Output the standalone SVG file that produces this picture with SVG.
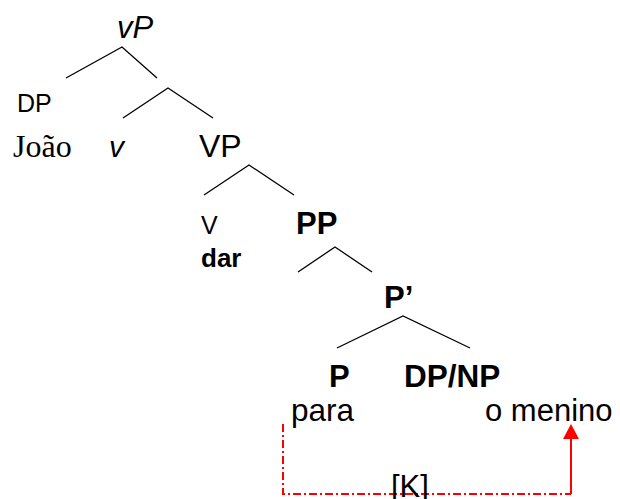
<svg xmlns="http://www.w3.org/2000/svg" width="620" height="499" viewBox="0 0 620 499">
  <style>
    .sans { font-family: "Liberation Sans", Arial, sans-serif; fill: #000; }
    .serif { font-family: "Liberation Serif", "Times New Roman", serif; fill: #000; }
    .b { font-weight: bold; }
    .i { font-style: italic; }
    .branch { stroke: #000; stroke-width: 1.3; fill: none; }
    .dashdot { stroke: #ff0000; stroke-width: 2; fill: none; stroke-dasharray: 8 3 2 3; }
    .solid { stroke: #ff0000; stroke-width: 2; fill: none; }
  </style>

  <g id="connectors">
    <path class="branch" d="M66,78 L122,47 L157,78"/>
    <path class="branch" d="M123,118 L168,88 L213,118"/>
    <path class="branch" d="M204,195 L249,165 L294,195"/>
    <path class="branch" d="M298,272 L335,247 L372,272"/>
    <path class="branch" d="M337,348 L403,316 L470,348"/>
    <path class="dashdot" d="M283,424 L283,494 L571,494"/>
    <path class="solid" d="M571,494 L571,439"/>
    <path d="M563,439 L571,424 L579,439 Z" fill="#ff0000"/>
  </g>

  <g id="node-vP"><text class="sans i" x="117" y="38" font-size="31">vP</text></g>
  <g id="node-DP"><text class="sans" x="17" y="112" font-size="25">DP</text></g>
  <g id="node-Joao"><text class="serif" x="13" y="157" font-size="32">João</text></g>
  <g id="node-v"><text class="sans i" x="109" y="157" font-size="30">v</text></g>
  <g id="node-VP"><text class="sans" x="199" y="157" font-size="32">VP</text></g>
  <g id="node-V"><text class="sans" x="201" y="234" font-size="25">V</text></g>
  <g id="node-dar"><text class="sans b" x="201" y="267" font-size="26">dar</text></g>
  <g id="node-PP"><text class="sans b" x="296" y="234" font-size="31">PP</text></g>
  <g id="node-Pbar"><text class="sans b" x="384" y="308" font-size="31">P’</text></g>
  <g id="node-P"><text class="sans b" x="329" y="387" font-size="31">P</text></g>
  <g id="node-DPNP"><text class="sans b" x="404" y="387" font-size="31.5">DP/NP</text></g>
  <g id="node-para"><text class="sans" x="291" y="421" font-size="31.5">para</text></g>
  <g id="node-omenino"><text class="sans" x="485" y="421" font-size="31">o menino</text></g>
  <g id="node-K"><text class="sans" x="391" y="497" font-size="31">[K]</text></g>
</svg>
